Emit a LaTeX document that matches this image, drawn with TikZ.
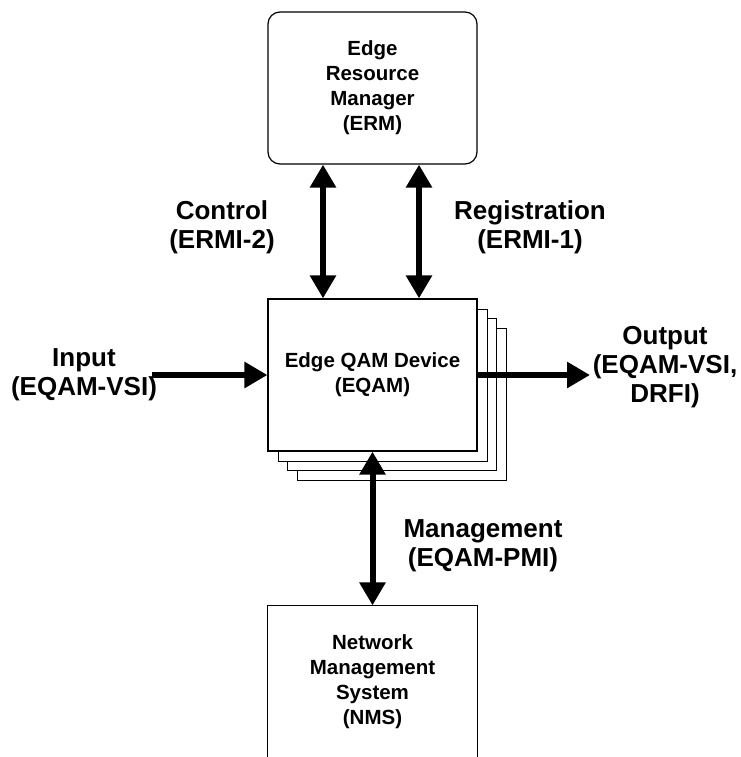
\documentclass[tikz,border=0pt]{standalone}
\usepackage{fontspec}
\setmainfont{Liberation Sans}
\usetikzlibrary{arrows.meta}
\tikzset{
  boxstyle/.style={draw=black, line width=1.2pt, fill=white, minimum width=209pt, minimum height=152pt, inner sep=0pt, align=center, font=\fontsize{20.5}{25}\selectfont\bfseries},
  shadowbox/.style={draw=black, line width=1pt, fill=white},
  lbl/.style={align=center, inner sep=0pt, font=\fontsize{26}{29}\selectfont\bfseries},
  thickarr/.style={line width=6pt, -{Triangle[length=23pt,width=25pt]}},
  biarr/.style={line width=6pt, {Triangle[length=23pt,width=25pt]}-{Triangle[length=23pt,width=25pt]}},
}
\begin{document}
\begin{tikzpicture}[x=1pt,y=-1pt]
\useasboundingbox (0,0) rectangle (740,757);
% ERM
\node[boxstyle, rounded corners=12pt] (erm) at (372.5,88) {Edge\\Resource\\Manager\\(ERM)};
% stacked EQAM boxes
\draw[shadowbox] (297,328) rectangle (506,480);
\draw[shadowbox] (287.5,318.5) rectangle (496.5,470.5);
\draw[shadowbox] (278,309) rectangle (487,461);
\node[boxstyle] (eqam) at (372.5,375) {Edge QAM Device\\(EQAM)};
% NMS (open at the bottom)
\node[boxstyle, draw=none, fill=none, minimum height=151pt] (nms) at (372.5,681.5) {Network\\Management\\System\\(NMS)};
\draw[line width=1.2pt] (nms.south west) -- (nms.north west) -- (nms.north east) -- (nms.south east);
% connector coordinates
\coordinate (ctlx) at (323,0);
\coordinate (regx) at (419,0);
\coordinate (inS) at (152,375);
\coordinate (outE) at (590,375);
% connectors
\draw[biarr] (erm.south -| ctlx) -- (eqam.north -| ctlx);
\draw[biarr] (erm.south -| regx) -- (eqam.north -| regx);
\draw[thickarr] (inS) -- (eqam.west);
\draw[thickarr] (eqam.east) -- (outE);
\draw[biarr] (eqam.south) -- (nms.north);
% labels
\node[lbl] (lin) at (84,375) {Input\\(EQAM-VSI)};
\node[lbl] (lctl) at (222,227) {Control\\(ERMI-2)};
\node[lbl] (lreg) at (530,227) {Registration\\(ERMI-1)};
\node[lbl] (lout) at (665,367) {Output\\(EQAM-VSI,\\DRFI)};
\node[lbl] (lmgt) at (483,546) {Management\\(EQAM-PMI)};
\end{tikzpicture}
\end{document}
